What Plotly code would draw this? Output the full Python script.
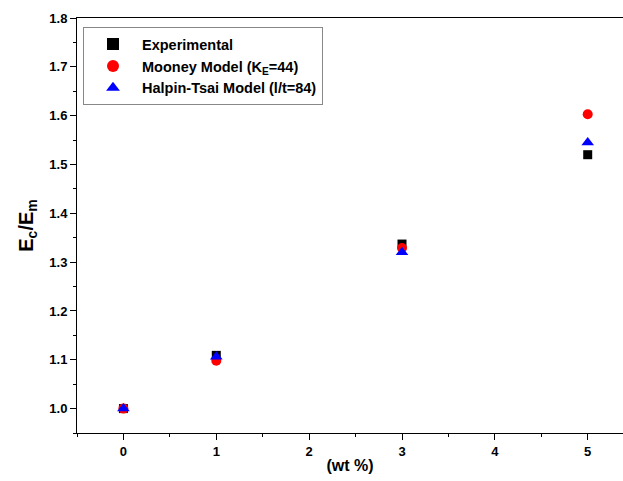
import plotly.graph_objects as go

wt = [0, 1, 3, 5]
experimental = [1.0, 1.109, 1.337, 1.52]
mooney = [1.0, 1.098, 1.329, 1.603]
halpin = [1.0, 1.106, 1.320, 1.545]

FONT = "Arial, Liberation Sans, sans-serif"

fig = go.Figure()
fig.add_trace(go.Scatter(x=wt, y=experimental, mode="markers", name="<b>Experimental</b>",
                         marker=dict(symbol="square", size=9, color="black")))
fig.add_trace(go.Scatter(x=wt, y=mooney, mode="markers", name="<b>Mooney Model (K<sub>E</sub>=44)</b>",
                         marker=dict(symbol="circle", size=10, color="#ff0000")))
fig.add_trace(go.Scatter(x=wt, y=halpin, mode="markers", name="<b>Halpin-Tsai Model (l/t=84)</b>",
                         marker=dict(symbol="triangle-up", size=11, color="#0000ff")))

fig.update_layout(
    width=623, height=481,
    margin=dict(l=77, r=0, t=18, b=48),
    plot_bgcolor="white", paper_bgcolor="white",
    font=dict(family=FONT, size=13, color="black"),
    showlegend=True,
    legend=dict(x=0.011, y=0.978, xanchor="left", yanchor="top",
                bordercolor="#888888", borderwidth=1, bgcolor="white",
                font=dict(family=FONT, size=14.5, color="black"),
                itemwidth=48, itemsizing="constant", tracegroupgap=2),
    xaxis=dict(range=[-0.5, 5.38], tickmode="array", tickvals=[0, 1, 2, 3, 4, 5],
               ticktext=["<b>%d</b>" % v for v in [0, 1, 2, 3, 4, 5]],
               ticks="outside", ticklen=6, tickwidth=1, tickcolor="black",
               minor=dict(dtick=0.5, tick0=0, ticks="outside", ticklen=3, tickcolor="black"),
               showline=True, linecolor="black", linewidth=1, mirror=True,
               showgrid=False, zeroline=False,
               title=dict(text="<b>(wt %)</b>", font=dict(size=16), standoff=2),
               tickfont=dict(size=13)),
    yaxis=dict(range=[0.95, 1.8], tickmode="array",
               tickvals=[1.0, 1.1, 1.2, 1.3, 1.4, 1.5, 1.6, 1.7, 1.8],
               ticktext=["<b>%.1f</b>" % v for v in [1.0, 1.1, 1.2, 1.3, 1.4, 1.5, 1.6, 1.7, 1.8]],
               ticks="outside", ticklen=6, tickwidth=1, tickcolor="black",
               minor=dict(dtick=0.05, tick0=0.95, ticks="outside", ticklen=3, tickcolor="black"),
               showline=True, linecolor="black", linewidth=1, mirror=True,
               showgrid=False, zeroline=False,
               title=dict(text="<b>E<sub>c</sub>/E<sub>m</sub></b>", font=dict(size=20), standoff=10),
               tickfont=dict(size=13)),
)

fig.write_html("out.html")
